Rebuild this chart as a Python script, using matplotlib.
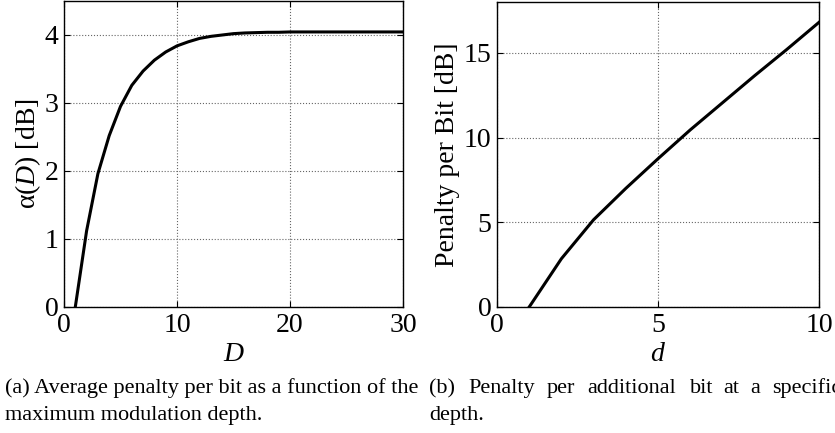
import matplotlib
matplotlib.use("Agg")
import matplotlib.pyplot as plt

# Data
D_vals = [1, 2, 3, 4, 5, 6, 7, 8, 9, 10, 11, 12, 13, 14, 15, 16, 17, 18, 19, 20,
          21, 22, 23, 24, 25, 26, 27, 28, 29, 30]
alpha_vals = [0.0, 1.12, 1.96, 2.52, 2.95, 3.26, 3.47, 3.63, 3.75, 3.84, 3.90, 3.95,
              3.98, 4.00, 4.02, 4.03, 4.035, 4.04, 4.04, 4.045, 4.045, 4.045, 4.045,
              4.045, 4.045, 4.045, 4.045, 4.045, 4.045, 4.045]
d_vals = [1, 2, 3, 4, 5, 6, 7, 8, 9, 10]
penalty_vals = [0.0, 2.85, 5.15, 7.0, 8.75, 10.45, 12.05, 13.65, 15.2, 16.8]

left_xticks = [0, 10, 20, 30]
left_yticks = [0, 1, 2, 3, 4]
right_xticks = [0, 5, 10]
right_yticks = [0, 5, 10, 15]

caption_a = ["(a) Average penalty per bit as a function of the",
             "maximum modulation depth."]
caption_b_words = ["(b)", "Penalty", "per", "additional", "bit", "at", "a", "specific"]
caption_b_line2 = "depth."

plt.rcParams['font.family'] = ['Liberation Serif', 'DejaVu Serif']
plt.rcParams['mathtext.fontset'] = 'custom'
plt.rcParams['mathtext.rm'] = 'Liberation Serif'
plt.rcParams['mathtext.it'] = 'Liberation Serif:italic'

W, H = 835, 433
fig = plt.figure(figsize=(W / 100, H / 100), dpi=100)

def ax_rect(x0, y0, x1, y1):
    return [x0 / W, 1 - y1 / H, (x1 - x0) / W, (y1 - y0) / H]

ax1 = fig.add_axes(ax_rect(64, 1, 403, 307))
ax2 = fig.add_axes(ax_rect(497, 2, 819, 307))

fs = 20
for ax in (ax1, ax2):
    ax.grid(True, linestyle=':', color='#666666', linewidth=0.8)
    ax.tick_params(direction='in', length=4, width=0.8, labelsize=fs,
                   top=True, right=True, pad=4)
    for s in ax.spines.values():
        s.set_linewidth(1.0)

ax1.plot(D_vals, alpha_vals, color='black', linewidth=2.2)
ax1.set_xlim(0, 30)
ax1.set_ylim(0, 4.5)
ax1.set_xticks(left_xticks)
ax1.set_yticks(left_yticks)
ax1.set_xlabel('$D$', fontsize=fs, labelpad=3)
ax1.set_ylabel('α($D$) [dB]', fontsize=fs, labelpad=1)

ax2.plot(d_vals, penalty_vals, color='black', linewidth=2.2)
ax2.set_xlim(0, 10)
ax2.set_ylim(0, 18)
ax2.set_xticks(right_xticks)
ax2.set_yticks(right_yticks)
ax2.set_xlabel('$d$', fontsize=fs, labelpad=3)
ax2.set_ylabel('Penalty per Bit [dB]', fontsize=fs, labelpad=3)

cfs = 16
fig.text(5 / W, 1 - 393 / H, caption_a[0], fontsize=cfs, va='baseline', ha='left')
fig.text(5 / W, 1 - 420 / H, caption_a[1], fontsize=cfs, va='baseline', ha='left')

word_x = [429, 468, 547, 587, 690, 723, 750, 772]
for wx, w in zip(word_x, caption_b_words):
    fig.text(wx / W, 1 - 393 / H, w, fontsize=cfs, va='baseline', ha='left')
fig.text(429 / W, 1 - 420 / H, caption_b_line2, fontsize=cfs, va='baseline', ha='left')

fig.savefig('out.png', dpi=100)
